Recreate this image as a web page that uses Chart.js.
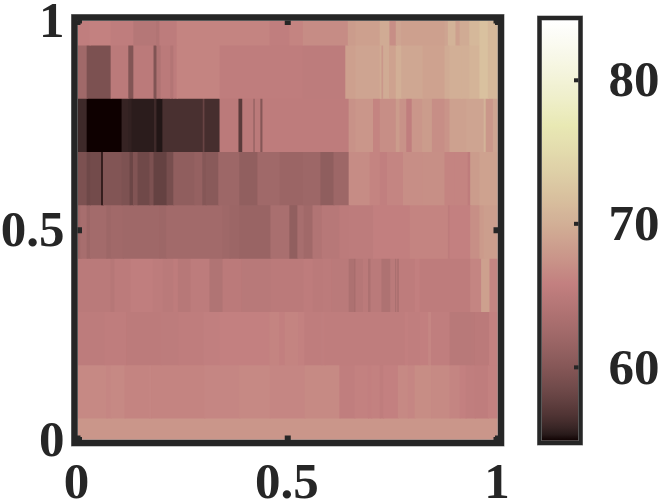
<!DOCTYPE html>
<html>
<head>
  <meta charset="UTF-8">
  <title>Heatmap</title>
  <script src="https://cdn.jsdelivr.net/npm/chart.js"></script>
  <style>
    html, body { margin: 0; padding: 0; background: #fff; }
    #wrap { position: relative; width: 659px; height: 504px; overflow: hidden; }
    canvas { position: absolute; top: 0; }
    #heat { left: 0; }
    #cbar { left: 520px; }
  </style>
</head>
<body>
  <div id="wrap">
    <canvas id="heat" width="520" height="504"></canvas>
    <canvas id="cbar" width="139" height="504"></canvas>
  </div>

  <script>
    const xTicks = [0, 0.5, 1];
    const yTicks = [0, 0.5, 1];
    const cbarTicks = [60, 70, 80];
    const cbarRange = [54.87, 84.2];

    // row centres on the y axis, bottom to top (end rows are cut by the axes)
    const rowCentres = [-0.011, 0.116, 0.243, 0.37, 0.497, 0.624, 0.751, 0.878, 1.005];

    // each row: run edges along x and the value of every run
    const row0Edges = [0, 1];
    const row0Vals = [67.7];
    const row1Edges = [0,.07,.08,.113,.172,.176,.303,.386,.458,.541,.624,.66,.692,.7,.72,.728,.763,.787,.803,.842,.886,.91,.924,.946,.977,1];
    const row1Vals = [66.6,66.4,66.6,66.2,66.4,66.2,66.4,66.6,66.4,66.7,65.6,66,65.8,66,65.5,65.9,66.6,66.4,66.9,66.7,66.3,65.9,65.6,65.4,66];
    const row2Edges = [0,.065,.117,.199,.241,.301,.339,.458,.481,.494,.526,.541,.581,.589,.779,.787,.815,.835,.842,.886,.935,.946,.98,1];
    const row2Vals = [65.2,65.4,65.1,65.2,65.5,65.7,65.9,66.2,65.8,66.2,66,65.4,65.6,65.4,65.8,65.6,65.8,66.4,65.6,64.7,64.8,65,66];
    const row3Edges = [0,.08,.089,.127,.18,.204,.229,.24,.27,.315,.346,.391,.46,.539,.561,.585,.605,.646,.66,.662,.68,.692,.698,.724,.745,.757,.759,.762,.765,.803,.815,.935,.961,.981,1];
    const row3Vals = [64.9,64.5,65.1,65.6,65.2,64.9,65.3,64.6,65.2,63.9,65,64.7,65,65.3,65,65.1,64.9,63.5,62.5,64.5,65,63.5,64.9,63.6,64.9,62.6,64.8,62.8,65.3,65.8,65.3,66.3,68.6,66.3];
    const row4Edges = [0,.006,.009,.023,.031,.07,.08,.109,.196,.212,.346,.363,.386,.46,.505,.524,.539,.56,.582,.624,.646,.704,.791,.882,.886,.935,.957,.967,1];
    const row4Vals = [62,62.8,63,62,62.6,62,62.4,62.2,62,62.5,62.2,61.9,61.7,63.2,61,63,62.4,64,64.6,65.1,65.2,65.8,66.2,65.2,65.9,67.1,68,68.4];
    const row5Edges = [0,.023,.031,.058,.061,.106,.125,.133,.144,.172,.182,.213,.229,.279,.298,.306,.336,.386,.429,.482,.537,.579,.61,.646,.696,.72,.737,.775,.822,.874,.898,.929,.935,.957,1];
    const row5Vals = [59.3,58.4,58.7,54.9,59.8,59.4,58.2,59.7,58.5,59.3,57.8,59,60.9,61.3,60,60.3,62,61,62.3,61.8,62,60.8,62,66.8,66.2,65.7,66.3,67,67.1,66.2,66.2,65.3,68.2,68.8];
    const row6Edges = [0,.023,.106,.122,.13,.183,.189,.203,.299,.303,.339,.384,.393,.42,.422,.436,.441,.646,.662,.704,.72,.758,.767,.783,.796,.821,.844,.874,.886,.926,.967,.972,.989,1];
    const row6Vals = [56,54.9,55.7,55.6,55.4,56,55.2,56.4,58,56.3,65,57.2,65,59.5,65,60,65.3,67.3,67.7,66.2,67,68.2,67.3,65.6,67.7,68.2,67,67.5,68.7,69,70.4,67.8,69];
    const row7Edges = [0,.023,.08,.122,.134,.182,.189,.199,.222,.229,.237,.339,.537,.638,.662,.72,.724,.728,.742,.758,.771,.822,.874,.886,.914,.933,.957,.977,1];
    const row7Vals = [62.3,59.3,65,59.8,65,59.6,63.8,65,64.2,65.2,66.2,65.4,65.2,68.6,69,69.6,67.8,69.6,68.8,70,69.2,68.8,69.6,70,70,70.6,72,71];
    const row8Edges = [0,.03,.08,.134,.188,.196,.237,.458,.505,.537,.644,.662,.72,.743,.758,.771,.874,.882,.9,.91,.933,.957,.977,1];
    const row8Vals = [65.6,66,65.4,64.4,64,65.2,66.2,65.6,66.2,66.8,68.2,68.6,69.6,67,69,68.6,69,70.4,68.6,69.6,71,72,71];

    const rowEdges = [row0Edges, row1Edges, row2Edges, row3Edges, row4Edges, row5Edges, row6Edges, row7Edges, row8Edges];
    const rowVals = [row0Vals, row1Vals, row2Vals, row3Vals, row4Vals, row5Vals, row6Vals, row7Vals, row8Vals];

    const INK = "#262626";
    const tickFont = { family: "'Liberation Serif', serif", size: 51, weight: "bold" };

    // matlab pink colormap
    function pink(t) {
      t = Math.max(0, Math.min(1, t));
      const clip = v => Math.max(0, Math.min(1, v));
      const hot = [clip(t * 8 / 3), clip((t - 3 / 8) * 8 / 3), clip((t - 3 / 4) * 4)];
      const c = hot.map(h => Math.round(255 * Math.sqrt((2 * t + h) / 3)));
      if (t < 0.005) return "rgb(14,0,0)";
      return `rgb(${c[0]},${c[1]},${c[2]})`;
    }
    const valueColor = v => pink((v - cbarRange[0]) / (cbarRange[1] - cbarRange[0]));

    const cells = [];
    rowCentres.forEach((y, r) => {
      rowVals[r].forEach((v, i) => {
        cells.push({ x: [rowEdges[r][i], rowEdges[r][i + 1]], y: y, v: v });
      });
    });

    function fixBox(scale, w, h) {
      if (w) scale.width = w;
      if (h) scale.height = h;
      scale.paddingTop = scale.paddingBottom = scale.paddingLeft = scale.paddingRight = 0;
    }

    const framePlugin = {
      id: "frame",
      afterDraw(chart, args, opts) {
        const { ctx, chartArea: a, scales } = chart;
        const lw = opts.lineWidth, len = opts.tickLength;
        ctx.save();
        ctx.strokeStyle = "#8a8a8a";
        ctx.lineWidth = lw + 1;
        ctx.strokeRect(a.left - lw / 2, a.top - lw / 2, a.right - a.left + lw, a.bottom - a.top + lw);
        ctx.strokeStyle = INK;
        ctx.lineWidth = lw;
        ctx.strokeRect(a.left - lw / 2, a.top - lw / 2, a.right - a.left + lw, a.bottom - a.top + lw);
        ctx.fillStyle = INK;
        if (opts.xTicks) {
          scales.x.ticks.forEach(t => {
            const px = scales.x.getPixelForValue(t.value);
            ctx.fillRect(px - lw / 2, a.top, lw, len);
            ctx.fillRect(px - lw / 2, a.bottom - len, lw, len);
          });
        }
        scales.y.ticks.forEach(t => {
          const py = scales.y.getPixelForValue(t.value);
          if (opts.leftTicks) ctx.fillRect(a.left, py - lw / 2, len, lw);
          ctx.fillRect(a.right - len, py - lw / 2, len, lw);
        });
        ctx.restore();
      }
    };

    new Chart(document.getElementById("heat").getContext("2d"), {
      type: "bar",
      plugins: [framePlugin],
      data: {
        datasets: [{
          data: cells,
          backgroundColor: cells.map(c => valueColor(c.v)),
          borderWidth: 0,
          inflateAmount: 0.5,
          categoryPercentage: 1,
          barPercentage: 1
        }]
      },
      options: {
        indexAxis: "y",
        responsive: false,
        animation: false,
        layout: { padding: { top: 20.5, right: 22, left: 0, bottom: 0 } },
        plugins: {
          legend: { display: false },
          tooltip: { enabled: false },
          frame: { lineWidth: 6, tickLength: 4.5, xTicks: true, leftTicks: true }
        },
        scales: {
          x: {
            type: "linear",
            min: 0,
            max: 1,
            grid: { display: false, drawTicks: false },
            border: { display: false },
            afterFit: s => fixBox(s, 0, 64),
            afterBuildTicks: s => { s.ticks = xTicks.map(v => ({ value: v })); },
            ticks: { font: tickFont, color: INK, padding: 14, labelOffset: -1, maxRotation: 0, autoSkip: false, callback: v => String(v) }
          },
          y: {
            type: "linear",
            min: 0,
            max: 1,
            offset: false,
            grid: { display: false, drawTicks: false, offset: false },
            border: { display: false },
            afterFit: s => fixBox(s, 77.5, 0),
            afterBuildTicks: s => { s.ticks = yTicks.map(v => ({ value: v })); },
            ticks: { font: tickFont, color: INK, padding: 13, labelOffset: 3, autoSkip: false, callback: v => String(v) }
          }
        }
      }
    });

    // colorbar: one floating bar over the full range with the colormap as fill
    function cbarFill(context) {
      const { ctx, chartArea } = context.chart;
      if (!chartArea) return "#c08080";
      const g = ctx.createLinearGradient(0, chartArea.bottom, 0, chartArea.top);
      for (let i = 0; i <= 64; i++) g.addColorStop(i / 64, pink(i / 64));
      return g;
    }

    new Chart(document.getElementById("cbar").getContext("2d"), {
      type: "bar",
      plugins: [framePlugin],
      data: {
        labels: [""],
        datasets: [{
          data: [cbarRange],
          backgroundColor: cbarFill,
          borderWidth: 0,
          categoryPercentage: 1,
          barPercentage: 1
        }]
      },
      options: {
        responsive: false,
        animation: false,
        layout: { padding: { top: 20, left: 21.5, right: 0, bottom: 63 } },
        plugins: {
          legend: { display: false },
          tooltip: { enabled: false },
          frame: { lineWidth: 4, tickLength: 4.5, xTicks: false, leftTicks: false }
        },
        scales: {
          x: {
            display: false
          },
          y: {
            position: "right",
            min: cbarRange[0],
            max: cbarRange[1],
            grid: { display: false, drawTicks: false },
            border: { display: false },
            afterFit: s => fixBox(s, 80.5, 0),
            afterBuildTicks: s => { s.ticks = cbarTicks.map(v => ({ value: v })); },
            ticks: { font: tickFont, color: INK, padding: 30, labelOffset: 3, autoSkip: false }
          }
        }
      }
    });
  </script>
</body>
</html>
